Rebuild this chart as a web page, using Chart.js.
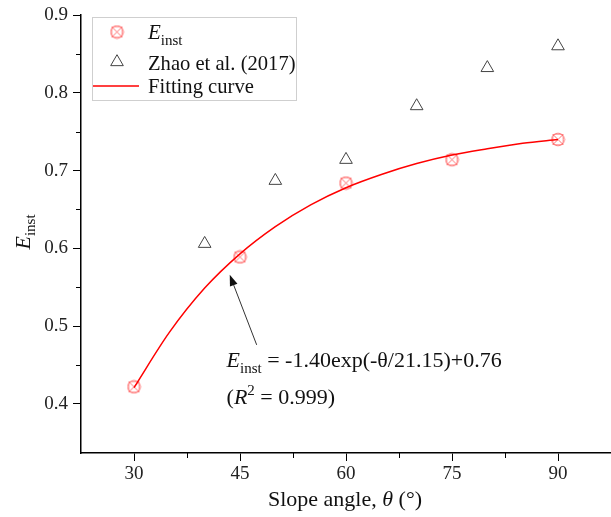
<!DOCTYPE html>
<html>
<head>
<meta charset="utf-8">
<script src="https://cdn.jsdelivr.net/npm/chart.js@4/dist/chart.umd.min.js"></script>
<style>
html,body{margin:0;padding:0;background:#fff;}
#wrap{width:611px;height:517px;position:relative;}
</style>
</head>
<body>
<div id="wrap"><canvas id="c" width="611" height="517"></canvas></div>
<script>
// ---- data ----
const einstAngles = [30, 45, 60, 75, 90];
const einstValues = [0.422, 0.589, 0.684, 0.714, 0.740];
const zhaoAngles = [40, 50, 60, 70, 80, 90];
const zhaoValues = [0.606, 0.687, 0.714, 0.783, 0.832, 0.860];
const fitAngles = [30, 35, 40, 45, 50, 55, 60, 65, 70, 75, 80, 85, 90];
const fitValues = [0.421, 0.492, 0.549, 0.593, 0.628, 0.656, 0.678, 0.695, 0.709, 0.720, 0.728, 0.735, 0.740];
const xTickValues = [30, 45, 60, 75, 90];
const xMinorValues = [37.5, 52.5, 67.5, 82.5];
const yTickValues = [0.4, 0.5, 0.6, 0.7, 0.8, 0.9];
const yMinorValues = [0.45, 0.55, 0.65, 0.75, 0.85];
const legendLabels = ['E', 'Zhao et al. (2017)', 'Fitting curve'];

const SERIF = '"Liberation Serif", "Times New Roman", serif';
const RED_MARK = 'rgba(255,80,80,0.8)';

function makeEinstMarker() {
  const c = document.createElement('canvas');
  c.width = 15; c.height = 15;
  const g = c.getContext('2d');
  g.strokeStyle = RED_MARK;
  g.lineWidth = 1;
  g.beginPath(); g.arc(7.5, 7.5, 6.3, 0, Math.PI * 2); g.stroke();
  g.globalAlpha = 0.6;
  g.strokeRect(2.5, 2.5, 10, 10);
  g.globalAlpha = 1;
  g.beginPath(); g.moveTo(2.5, 2.5); g.lineTo(12.5, 12.5); g.moveTo(12.5, 2.5); g.lineTo(2.5, 12.5); g.stroke();
  return c;
}
const einstMarker = makeEinstMarker();

const toXY = (xs, ys) => xs.map((x, i) => ({x: x, y: ys[i]}));

const decorPlugin = {
  id: 'decor',
  afterDraw(chart) {
    const ctx = chart.ctx;
    const xs = chart.scales.x, ys = chart.scales.y;
    const ca = chart.chartArea;
    ctx.save();
    // minor ticks
    ctx.strokeStyle = '#000'; ctx.lineWidth = 1;
    ctx.beginPath();
    xMinorValues.forEach(v => { const p = Math.round(xs.getPixelForValue(v)) + 0.5; ctx.moveTo(p, ca.bottom); ctx.lineTo(p, ca.bottom + 5); });
    yMinorValues.forEach(v => { const p = Math.round(ys.getPixelForValue(v)) + 0.5; ctx.moveTo(ca.left, p); ctx.lineTo(ca.left - 5, p); });
    ctx.stroke();

    // x axis title
    ctx.fillStyle = '#111';
    ctx.textBaseline = 'alphabetic';
    const parts = [
      {t: 'Slope angle, ', f: '22px ' + SERIF},
      {t: 'θ', f: 'italic 22px ' + SERIF},
      {t: ' (°)', f: '22px ' + SERIF}
    ];
    let tw = 0;
    parts.forEach(p => { ctx.font = p.f; p.w = ctx.measureText(p.t).width; tw += p.w; });
    let px = 345 - tw / 2;
    parts.forEach(p => { ctx.font = p.f; ctx.fillText(p.t, px, 506); px += p.w; });

    // y axis title (rotated)
    ctx.save();
    ctx.translate(30, 232);
    ctx.rotate(-Math.PI / 2);
    ctx.font = 'italic 22px ' + SERIF;
    const ew = ctx.measureText('E').width;
    ctx.font = '15px ' + SERIF;
    const iw = ctx.measureText('inst').width;
    let sx = -(ew + iw) / 2;
    ctx.font = 'italic 22px ' + SERIF;
    ctx.fillText('E', sx, 0);
    ctx.font = '15px ' + SERIF;
    ctx.fillText('inst', sx + ew, 5);
    ctx.restore();

    // legend box
    ctx.strokeStyle = '#cfcfcf'; ctx.lineWidth = 1;
    ctx.strokeRect(92.5, 17.5, 204, 83);
    ctx.drawImage(einstMarker, 117 - 7.5, 32 - 7.5);
    // triangle
    ctx.strokeStyle = '#444'; ctx.lineWidth = 1;
    ctx.beginPath();
    const tr = 7.3, tcx = 117, tcy = 62;
    ctx.moveTo(tcx, tcy - tr);
    ctx.lineTo(tcx + tr * Math.sin(2 * Math.PI / 3), tcy - tr * Math.cos(2 * Math.PI / 3));
    ctx.lineTo(tcx - tr * Math.sin(2 * Math.PI / 3), tcy - tr * Math.cos(2 * Math.PI / 3));
    ctx.closePath(); ctx.stroke();
    ctx.strokeStyle = '#ff0000'; ctx.lineWidth = 1.5;
    ctx.beginPath(); ctx.moveTo(93, 86); ctx.lineTo(139, 86); ctx.stroke();
    ctx.fillStyle = '#111';
    ctx.font = 'italic 21px ' + SERIF;
    ctx.fillText(legendLabels[0], 148, 39);
    const lew = ctx.measureText(legendLabels[0]).width;
    ctx.font = '15px ' + SERIF;
    ctx.fillText('inst', 148 + lew, 45);
    ctx.font = '20.6px ' + SERIF;
    ctx.fillText(legendLabels[1], 148, 70);
    ctx.fillText(legendLabels[2], 148, 93);

    // annotation arrow (data coordinates)
    const ax1 = xs.getPixelForValue(47.36), ay1 = ys.getPixelForValue(0.476);
    const ax2 = xs.getPixelForValue(43.55), ay2 = ys.getPixelForValue(0.566);
    ctx.strokeStyle = '#333'; ctx.lineWidth = 1;
    const ang = Math.atan2(ay2 - ay1, ax2 - ax1);
    const hl = 11, hw = 4;
    const bx = ax2 - hl * Math.cos(ang), by = ay2 - hl * Math.sin(ang);
    ctx.beginPath(); ctx.moveTo(ax1, ay1); ctx.lineTo(bx, by); ctx.stroke();
    ctx.fillStyle = '#111';
    ctx.beginPath();
    ctx.moveTo(ax2, ay2);
    ctx.lineTo(bx + hw * Math.sin(ang), by - hw * Math.cos(ang));
    ctx.lineTo(bx - hw * Math.sin(ang), by + hw * Math.cos(ang));
    ctx.closePath(); ctx.fill();

    // equation text
    const tx = xs.getPixelForValue(43.1);
    const tb1 = ys.getPixelForValue(0.4476);
    const tb2 = ys.getPixelForValue(0.4);
    ctx.fillStyle = '#111';
    let cx = tx;
    ctx.font = 'italic 22px ' + SERIF; ctx.fillText('E', cx, tb1); cx += ctx.measureText('E').width;
    ctx.font = '15px ' + SERIF; ctx.fillText('inst', cx, tb1 + 6); cx += ctx.measureText('inst').width;
    ctx.font = '22px ' + SERIF; ctx.fillText(' = -1.40exp(-θ/21.15)+0.76', cx, tb1);
    cx = tx;
    ctx.font = '22px ' + SERIF; ctx.fillText('(', cx, tb2); cx += ctx.measureText('(').width;
    ctx.font = 'italic 22px ' + SERIF; ctx.fillText('R', cx, tb2); cx += ctx.measureText('R').width;
    ctx.font = '15px ' + SERIF; ctx.fillText('2', cx, tb2 - 9); cx += ctx.measureText('2').width;
    ctx.font = '22px ' + SERIF; ctx.fillText(' = 0.999)', cx, tb2);
    ctx.restore();
  }
};

new Chart(document.getElementById('c'), {
  type: 'scatter',
  data: {
    datasets: [
      {
        label: 'Fitting curve',
        type: 'line',
        data: toXY(fitAngles, fitValues),
        borderColor: '#ff0000',
        borderWidth: 1.5,
        pointRadius: 0,
        fill: false,
        cubicInterpolationMode: 'monotone',
        order: 1
      },
      {
        label: 'Einst',
        data: toXY(einstAngles, einstValues),
        pointStyle: einstMarker,
        pointRadius: 7,
        order: 2
      },
      {
        label: 'Zhao et al. (2017)',
        data: toXY(zhaoAngles, zhaoValues),
        pointStyle: 'triangle',
        pointRadius: 7.3,
        borderColor: '#444',
        backgroundColor: 'rgba(0,0,0,0)',
        borderWidth: 1,
        order: 3
      }
    ]
  },
  options: {
    responsive: false,
    animation: false,
    devicePixelRatio: 1,
    layout: {autoPadding: false, padding: {top: 15, right: 0, left: 0, bottom: 0}},
    plugins: {legend: {display: false}, tooltip: {enabled: false}},
    scales: {
      x: {
        type: 'linear',
        min: 22.5, max: 97.5,
        afterBuildTicks: s => { s.ticks = xTickValues.map(v => ({value: v})); },
        afterFit: s => { s.height = 64; s.paddingLeft = 0; s.paddingRight = 0; },
        grid: {drawOnChartArea: false, tickLength: 8, tickColor: '#000', tickWidth: 1},
        border: {display: true, color: '#000', width: 1.5},
        ticks: {font: {family: SERIF, size: 19}, color: '#222', padding: 2, maxRotation: 0}
      },
      y: {
        type: 'linear',
        min: 0.337, max: 0.9,
        afterBuildTicks: s => { s.ticks = yTickValues.map(v => ({value: v})); },
        afterFit: s => { s.width = 81; s.paddingTop = 0; s.paddingBottom = 0; },
        grid: {drawOnChartArea: false, tickLength: 8, tickColor: '#000', tickWidth: 1},
        border: {display: true, color: '#000', width: 1.5},
        ticks: {font: {family: SERIF, size: 19}, color: '#222', padding: 5, callback: v => v.toFixed(1)}
      }
    }
  },
  plugins: [decorPlugin]
});
</script>
</body>
</html>
